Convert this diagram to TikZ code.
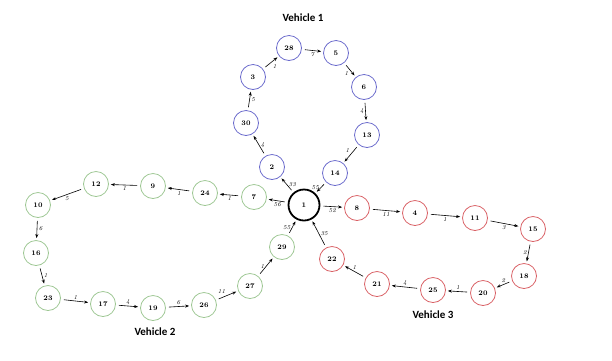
\documentclass[tikz,border=0pt]{standalone}
\usepackage{fontspec}
\newfontfamily\labelfont{Carlito}
\usepackage{tikz}
\usetikzlibrary{arrows.meta}
\definecolor{vblue}{rgb}{0.42,0.42,0.80}
\definecolor{vgreen}{rgb}{0.62,0.78,0.58}
\definecolor{vred}{rgb}{0.85,0.38,0.40}
\tikzstyle{stop} = [circle, draw, line width=0.8pt, minimum size=25pt, inner sep=0pt, font=\bfseries\fontsize{7}{8}\selectfont]
\tikzstyle{depot} = [circle, draw=black, line width=1.8pt, minimum size=31pt, inner sep=0pt, font=\bfseries\fontsize{7}{8}\selectfont]
\tikzstyle{route} = [-{Stealth[length=4pt,width=3pt]}, line width=0.6pt, shorten <=3pt, shorten >=2pt]
\tikzstyle{cost} = [font=\itshape\fontsize{6}{7}\selectfont, inner sep=1.5pt]
\tikzstyle{vehicle} = [font=\labelfont\bfseries\fontsize{11}{13}\selectfont]

\begin{document}
\begin{tikzpicture}[x=1pt,y=-1pt]
      \useasboundingbox (0,0) rectangle (612,360);
      % depot
      \node[depot] (D1) at (304,205) {1};
      % vehicle 1
      \node[stop,draw=vblue] (V2) at (272,167) {2};
      \node[stop,draw=vblue] (V30) at (246,123) {30};
      \node[stop,draw=vblue] (V3) at (253,77) {3};
      \node[stop,draw=vblue] (V28) at (289,48) {28};
      \node[stop,draw=vblue] (V5) at (336,53) {5};
      \node[stop,draw=vblue] (V6) at (364,87) {6};
      \node[stop,draw=vblue] (V13) at (367,135) {13};
      \node[stop,draw=vblue] (V14) at (335,173) {14};
      \node[vehicle] (Veh1) at (303,18) {Vehicle 1};
      % vehicle 2
      \node[stop,draw=vgreen] (G7) at (254,197) {7};
      \node[stop,draw=vgreen] (G24) at (205,193) {24};
      \node[stop,draw=vgreen] (G9) at (153,186) {9};
      \node[stop,draw=vgreen] (G12) at (96,184) {12};
      \node[stop,draw=vgreen] (G10) at (38,205) {10};
      \node[stop,draw=vgreen] (G16) at (36,253) {16};
      \node[stop,draw=vgreen] (G23) at (48,298) {23};
      \node[stop,draw=vgreen] (G17) at (103,304) {17};
      \node[stop,draw=vgreen] (G19) at (153,308) {19};
      \node[stop,draw=vgreen] (G26) at (204,305) {26};
      \node[stop,draw=vgreen] (G27) at (250,286) {27};
      \node[stop,draw=vgreen] (G29) at (282,247) {29};
      \node[vehicle] (Veh2) at (155,332) {Vehicle 2};
      % vehicle 3
      \node[stop,draw=vred] (R8) at (357,208) {8};
      \node[stop,draw=vred] (R4) at (415,213) {4};
      \node[stop,draw=vred] (R11) at (475,218) {11};
      \node[stop,draw=vred] (R15) at (533,229) {15};
      \node[stop,draw=vred] (R18) at (524,276) {18};
      \node[stop,draw=vred] (R20) at (483,293) {20};
      \node[stop,draw=vred] (R25) at (433,290) {25};
      \node[stop,draw=vred] (R21) at (377,284) {21};
      \node[stop,draw=vred] (R22) at (332,259) {22};
      \node[vehicle] (Veh3) at (433,315) {Vehicle 3};
      %
      \draw[route] (D1) -- node[cost,right] {33} (V2);
      \draw[route] (V2) -- node[cost,right] {4} (V30);
      \draw[route] (V30) -- node[cost,right] {5} (V3);
      \draw[route] (V3) -- node[cost,below right] {1} (V28);
      \draw[route] (V28) -- node[cost,below] {7} (V5);
      \draw[route] (V5) -- node[cost,below left] {1} (V6);
      \draw[route] (V6) -- node[cost,left] {4} (V13);
      \draw[route] (V13) -- node[cost,above left] {1} (V14);
      \draw[route] (V14) -- node[cost,left] {55} (D1);
      %
      \draw[route] (D1) -- node[cost,below] {56} (G7);
      \draw[route] (G7) -- node[cost,below] {1} (G24);
      \draw[route] (G24) -- node[cost,below] {1} (G9);
      \draw[route] (G9) -- node[cost,below] {1} (G12);
      \draw[route] (G12) -- node[cost,below] {5} (G10);
      \draw[route] (G10) -- node[cost,right] {6} (G16);
      \draw[route] (G16) -- node[cost,right] {1} (G23);
      \draw[route] (G23) -- node[cost,above] {1} (G17);
      \draw[route] (G17) -- node[cost,above] {4} (G19);
      \draw[route] (G19) -- node[cost,above] {6} (G26);
      \draw[route] (G26) -- node[cost,above left] {11} (G27);
      \draw[route] (G27) -- node[cost,left] {1} (G29);
      \draw[route] (G29) -- node[cost,left] {55} (D1);
      %
      \draw[route] (D1) -- node[cost,below] {52} (R8);
      \draw[route] (R8) -- node[cost,below] {11} (R4);
      \draw[route] (R4) -- node[cost,below] {1} (R11);
      \draw[route] (R11) -- node[cost,below] {3} (R15);
      \draw[route] (R15) -- node[cost,left] {2} (R18);
      \draw[route] (R18) -- node[cost,above] {2} (R20);
      \draw[route] (R20) -- node[cost,above] {1} (R25);
      \draw[route] (R25) -- node[cost,above] {4} (R21);
      \draw[route] (R21) -- node[cost,above] {1} (R22);
      \draw[route] (R22) -- node[cost,right] {35} (D1);
    \end{tikzpicture}
\end{document}
